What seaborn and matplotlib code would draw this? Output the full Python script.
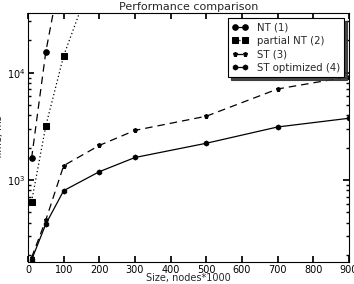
import numpy as np
import pandas as pd
import matplotlib
matplotlib.use("Agg")
import matplotlib.pyplot as plt
import seaborn as sns

# values (time in ms vs size in thousands of nodes)
nt_size = [10, 50, 100]
nt_time = [1590, 15700, 118000]

partial_size = [10, 50, 100, 200]
partial_time = [628, 3200, 14400, 115000]

st_size = [10, 50, 100, 200, 300, 500, 700, 900]
st_time = [189, 424, 1360, 2100, 2900, 3930, 7050, 9180]

opt_size = [10, 50, 100, 200, 300, 500, 700, 900]
opt_time = [180, 389, 795, 1195, 1620, 2200, 3120, 3760]

SERIES = [
    ("NT (1)", nt_size, nt_time, "o", (6, 4), 4.0),
    ("partial NT (2)", partial_size, partial_time, "s", (1, 2), 4.0),
    ("ST (3)", st_size, st_time, "p", (6, 4), 3.6),
    ("ST optimized (4)", opt_size, opt_time, "h", "", 3.6),
]

sns.set_theme(style="white")
plt.rcParams.update(
    {
        "font.family": ["DejaVu Sans"],
        "font.size": 7,
        "xtick.direction": "in",
        "ytick.direction": "in",
        "xtick.top": True,
        "ytick.right": True,
        "xtick.bottom": True,
        "ytick.left": True,
        "xtick.major.size": 4,
        "ytick.major.size": 4,
        "ytick.minor.size": 2,
        "xtick.color": "black",
        "ytick.color": "black",
        "axes.edgecolor": "black",
        "axes.linewidth": 0.8,
    }
)

fig = plt.figure(figsize=(3.54, 2.84), dpi=100)
ax = fig.add_axes([28 / 354, 22 / 284, 321 / 354, 249 / 284])

for label, xs, ys, marker, dash, ms in SERIES:
    df = pd.DataFrame({"size": xs, "time": ys})
    sns.lineplot(
        data=df,
        x="size",
        y="time",
        marker=marker,
        markersize=ms,
        color="black",
        linewidth=0.9,
        dashes=False,
        label=label,
        ax=ax,
    )
    line = ax.get_lines()[-1]
    if dash:
        line.set_dashes(dash)
    line.set_markeredgecolor("black")

ax.set_yscale("log")
ax.set_xlim(0, 900)
ax.set_ylim(172, 36000)
ax.set_xticks(range(0, 1000, 100))
ax.tick_params(axis="both", which="both", labelsize=7, pad=2)
ax.set_xlabel("Size, nodes*1000", fontsize=7, labelpad=-1)
ax.set_ylabel("Time, ms", fontsize=7, labelpad=2)
ax.set_title("Performance comparison", fontsize=8, pad=2)

leg = ax.legend(
    loc="upper right",
    numpoints=2,
    fontsize=7.3,
    frameon=True,
    fancybox=False,
    shadow={"color": "0.2", "alpha": 0.9},
    edgecolor="black",
    handlelength=1.6,
    borderaxespad=0.5,
    labelspacing=0.35,
)
leg.get_frame().set_linewidth(0.8)

fig.savefig("out.png", dpi=100)
